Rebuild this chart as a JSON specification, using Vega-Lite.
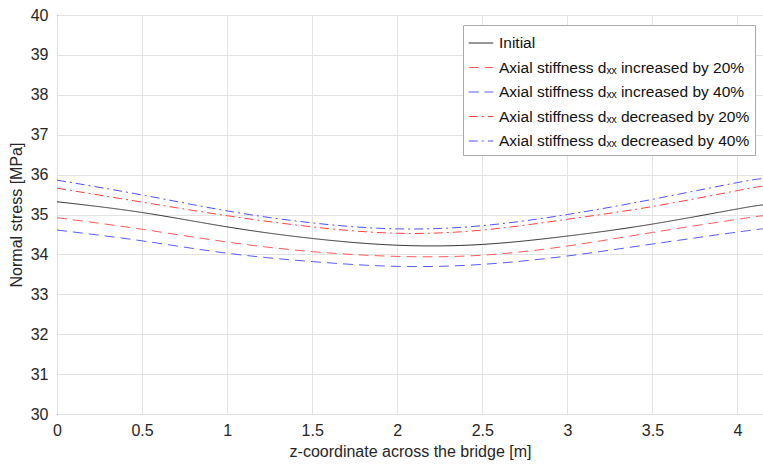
{
  "$schema": "https://vega.github.io/schema/vega-lite/v6.json",
  "autosize": "none",
  "padding": {"left": 57, "top": 15, "right": 0, "bottom": 53},
  "width": 706,
  "height": 399,
  "background": "white",
  "config": {
    "view": {"stroke": "#262626", "strokeWidth": 1},
    "font": "Liberation Sans",
    "axis": {
      "grid": true,
      "gridColor": "#e3e3e3",
      "gridWidth": 1,
      "domain": false,
      "ticks": false,
      "labelFont": "Liberation Sans",
      "labelFontSize": 16,
      "labelColor": "#262626",
      "titleFont": "Liberation Sans",
      "titleFontSize": 16,
      "titleFontWeight": "normal",
      "titleColor": "#262626"
    },
    "legend": {
      "labelFont": "Liberation Sans",
      "labelFontSize": 15.5,
      "labelColor": "#111",
      "labelLimit": 0
    }
  },
  "data": {
    "values": [
      {"z": 0, "s": 35.32, "c": "Initial"},
      {"z": 0.5, "s": 35.05, "c": "Initial"},
      {"z": 1, "s": 34.69, "c": "Initial"},
      {"z": 1.5, "s": 34.40, "c": "Initial"},
      {"z": 2, "s": 34.23, "c": "Initial"},
      {"z": 2.5, "s": 34.25, "c": "Initial"},
      {"z": 3, "s": 34.46, "c": "Initial"},
      {"z": 3.5, "s": 34.76, "c": "Initial"},
      {"z": 4, "s": 35.14, "c": "Initial"},
      {"z": 4.15, "s": 35.24, "c": "Initial"},

      {"z": 0, "s": 34.92, "c": "Axial stiffness dₓₓ increased by 20%"},
      {"z": 0.5, "s": 34.63, "c": "Axial stiffness dₓₓ increased by 20%"},
      {"z": 1, "s": 34.31, "c": "Axial stiffness dₓₓ increased by 20%"},
      {"z": 1.5, "s": 34.07, "c": "Axial stiffness dₓₓ increased by 20%"},
      {"z": 2, "s": 33.95, "c": "Axial stiffness dₓₓ increased by 20%"},
      {"z": 2.5, "s": 33.98, "c": "Axial stiffness dₓₓ increased by 20%"},
      {"z": 3, "s": 34.21, "c": "Axial stiffness dₓₓ increased by 20%"},
      {"z": 3.5, "s": 34.55, "c": "Axial stiffness dₓₓ increased by 20%"},
      {"z": 4, "s": 34.88, "c": "Axial stiffness dₓₓ increased by 20%"},
      {"z": 4.15, "s": 34.97, "c": "Axial stiffness dₓₓ increased by 20%"},

      {"z": 0, "s": 34.61, "c": "Axial stiffness dₓₓ increased by 40%"},
      {"z": 0.5, "s": 34.34, "c": "Axial stiffness dₓₓ increased by 40%"},
      {"z": 1, "s": 34.03, "c": "Axial stiffness dₓₓ increased by 40%"},
      {"z": 1.5, "s": 33.82, "c": "Axial stiffness dₓₓ increased by 40%"},
      {"z": 2, "s": 33.70, "c": "Axial stiffness dₓₓ increased by 40%"},
      {"z": 2.5, "s": 33.75, "c": "Axial stiffness dₓₓ increased by 40%"},
      {"z": 3, "s": 33.96, "c": "Axial stiffness dₓₓ increased by 40%"},
      {"z": 3.5, "s": 34.26, "c": "Axial stiffness dₓₓ increased by 40%"},
      {"z": 4, "s": 34.56, "c": "Axial stiffness dₓₓ increased by 40%"},
      {"z": 4.15, "s": 34.64, "c": "Axial stiffness dₓₓ increased by 40%"},

      {"z": 0, "s": 35.66, "c": "Axial stiffness dₓₓ decreased by 20%"},
      {"z": 0.5, "s": 35.31, "c": "Axial stiffness dₓₓ decreased by 20%"},
      {"z": 1, "s": 34.97, "c": "Axial stiffness dₓₓ decreased by 20%"},
      {"z": 1.5, "s": 34.69, "c": "Axial stiffness dₓₓ decreased by 20%"},
      {"z": 2, "s": 34.53, "c": "Axial stiffness dₓₓ decreased by 20%"},
      {"z": 2.5, "s": 34.61, "c": "Axial stiffness dₓₓ decreased by 20%"},
      {"z": 3, "s": 34.88, "c": "Axial stiffness dₓₓ decreased by 20%"},
      {"z": 3.5, "s": 35.20, "c": "Axial stiffness dₓₓ decreased by 20%"},
      {"z": 4, "s": 35.60, "c": "Axial stiffness dₓₓ decreased by 20%"},
      {"z": 4.15, "s": 35.71, "c": "Axial stiffness dₓₓ decreased by 20%"},

      {"z": 0, "s": 35.86, "c": "Axial stiffness dₓₓ decreased by 40%"},
      {"z": 0.5, "s": 35.49, "c": "Axial stiffness dₓₓ decreased by 40%"},
      {"z": 1, "s": 35.09, "c": "Axial stiffness dₓₓ decreased by 40%"},
      {"z": 1.5, "s": 34.79, "c": "Axial stiffness dₓₓ decreased by 40%"},
      {"z": 2, "s": 34.64, "c": "Axial stiffness dₓₓ decreased by 40%"},
      {"z": 2.5, "s": 34.72, "c": "Axial stiffness dₓₓ decreased by 40%"},
      {"z": 3, "s": 35.00, "c": "Axial stiffness dₓₓ decreased by 40%"},
      {"z": 3.5, "s": 35.38, "c": "Axial stiffness dₓₓ decreased by 40%"},
      {"z": 4, "s": 35.80, "c": "Axial stiffness dₓₓ decreased by 40%"},
      {"z": 4.15, "s": 35.90, "c": "Axial stiffness dₓₓ decreased by 40%"}
    ]
  },
  "mark": {"type": "line", "interpolate": "natural", "strokeWidth": 1, "clip": true},
  "encoding": {
    "x": {
      "field": "z", "type": "quantitative",
      "scale": {"domain": [0, 4.15], "nice": false, "zero": false},
      "axis": {"values": [0, 0.5, 1, 1.5, 2, 2.5, 3, 3.5, 4], "format": "~g", "title": "z-coordinate across the bridge [m]", "labelPadding": 8, "titlePadding": 5, "labelFlush": false}
    },
    "y": {
      "field": "s", "type": "quantitative",
      "scale": {"domain": [30, 40], "nice": false, "zero": false},
      "axis": {"values": [30, 31, 32, 33, 34, 35, 36, 37, 38, 39, 40], "title": "Normal stress [MPa]", "labelPadding": 9, "titlePadding": 6}
    },
    "color": {
      "field": "c", "type": "nominal",
      "sort": null,
      "scale": {
        "domain": ["Initial", "Axial stiffness dₓₓ increased by 20%", "Axial stiffness dₓₓ increased by 40%", "Axial stiffness dₓₓ decreased by 20%", "Axial stiffness dₓₓ decreased by 40%"],
        "range": ["#333333", "#ff5a5a", "#5a5aff", "#ff4040", "#5050ff"]
      },
      "legend": {
        "title": null,
        "orient": "none",
        "legendX": 406,
        "legendY": 10,
        "symbolType": "stroke",
        "symbolSize": 600,
        "symbolStrokeWidth": 1.2,
        "fillColor": "white",
        "strokeColor": "#aaaaaa",
        "padding": 5,
        "rowPadding": 2.5,
        "labelOffset": 5,
        "cornerRadius": 0
      }
    },
    "strokeDash": {
      "field": "c", "type": "nominal",
      "sort": null,
      "scale": {
        "domain": ["Initial", "Axial stiffness dₓₓ increased by 20%", "Axial stiffness dₓₓ increased by 40%", "Axial stiffness dₓₓ decreased by 20%", "Axial stiffness dₓₓ decreased by 40%"],
        "range": [[1, 0], [10, 6], [10, 6], [9, 4, 2, 4], [9, 4, 2, 4]]
      },
      "legend": null
    }
  }
}
